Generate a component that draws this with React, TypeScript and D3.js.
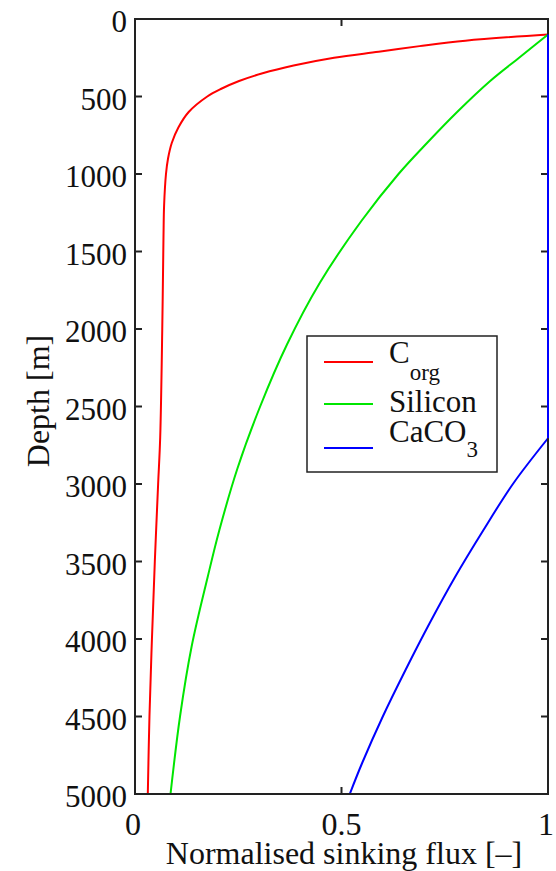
import React from "react";
import * as d3 from "d3";

// depth [m], normalised flux [-]
const corgDepth = [100, 140, 175, 211, 250, 300, 350, 400, 450, 500, 600, 700, 800, 900, 1000, 1200, 1400, 2000, 2700, 3000, 3500, 4000, 4500, 5000];
const corgFlux = [1.0, 0.8, 0.689, 0.59, 0.482, 0.384, 0.309, 0.252, 0.209, 0.175, 0.13, 0.105, 0.089, 0.08, 0.075, 0.0705, 0.069, 0.066, 0.061, 0.056, 0.048, 0.041, 0.035, 0.031];

const siliconDepth = [100, 250, 400, 600, 800, 1000, 1300, 1700, 2100, 2500, 2900, 3300, 3600, 4050, 4500, 5000];
const siliconFlux = [1.0, 0.93, 0.86, 0.78, 0.707, 0.638, 0.549, 0.448, 0.368, 0.303, 0.248, 0.204, 0.176, 0.137, 0.109, 0.086];

const caco3Depth = [100, 2705, 3000, 3300, 3600, 3900, 4200, 4500, 4800, 5000];
const caco3Flux = [1.0, 1.0, 0.915, 0.843, 0.775, 0.713, 0.655, 0.6, 0.55, 0.52];

const yTicks = [0, 500, 1000, 1500, 2000, 2500, 3000, 3500, 4000, 4500, 5000];
const xTicks = [0, 0.5, 1];
const xTickLabels = ["0", "0.5", "1"];

const W = 556;
const H = 871;
const left = 135, right = 548, top = 19, bottom = 794;

export default function App() {
  const x = d3.scaleLinear().domain([0, 1]).range([left, right]);
  const y = d3.scaleLinear().domain([0, 5000]).range([top, bottom]);
  const fontStyle = { fontFamily: "Liberation Serif, Times New Roman, DejaVu Serif, serif" };

  const curve = d3
    .line<[number, number]>()
    .x((d) => x(d[1]))
    .y((d) => y(d[0]))
    .curve(d3.curveCatmullRom.alpha(0.5));
  const straight = d3
    .line<[number, number]>()
    .x((d) => x(d[1]))
    .y((d) => y(d[0]));

  const zip = (a: number[], b: number[]) => a.map((v, i) => [v, b[i]] as [number, number]);
  const corg = zip(corgDepth, corgFlux);
  const sil = zip(siliconDepth, siliconFlux);
  const ca = zip(caco3Depth, caco3Flux);

  const tickLen = 7;
  const axisColor = "#222";

  return (
    <svg width={W} height={H} style={{ position: "absolute", left: 0, top: 0, background: "#fff", ...fontStyle }}>
      <defs>
        <clipPath id="plotclip">
          <rect x={left} y={top} width={right - left} height={bottom - top} />
        </clipPath>
      </defs>
      <rect x={0} y={0} width={W} height={H} fill="#fff" />

      {/* ticks */}
      {yTicks.map((t) => (
        <g key={"y" + t}>
          <line x1={left} x2={left + tickLen} y1={y(t)} y2={y(t)} stroke={axisColor} strokeWidth={2} />
          <line x1={right} x2={right - tickLen} y1={y(t)} y2={y(t)} stroke={axisColor} strokeWidth={2} />
          <text x={127} y={y(t) + 13} fontSize={31} textAnchor="end" fill="#111" style={fontStyle}>
            {t}
          </text>
        </g>
      ))}
      {xTicks.map((t, i) => (
        <g key={"x" + t}>
          <line x1={x(t)} x2={x(t)} y1={bottom} y2={bottom - tickLen} stroke={axisColor} strokeWidth={2} />
          <line x1={x(t)} x2={x(t)} y1={top} y2={top + tickLen} stroke={axisColor} strokeWidth={2} />
          <text x={i === 1 ? x(t) : x(t) - 2} y={835} fontSize={32} textAnchor="middle" fill="#111" style={fontStyle}>
            {xTickLabels[i]}
          </text>
        </g>
      ))}

      {/* curves */}
      <g clipPath="url(#plotclip)" fill="none" strokeWidth={2}>
        <path d={curve(corg) || ""} stroke="#ff0000" />
        <path d={curve(sil) || ""} stroke="#00e600" />
        <path d={straight(ca.slice(0, 2)) || ""} stroke="#0000ff" />
        <path d={curve(ca.slice(1)) || ""} stroke="#0000ff" />
      </g>

      {/* frame */}
      <rect x={left} y={top} width={right - left} height={bottom - top} fill="none" stroke={axisColor} strokeWidth={2} />
      {/* blue overlays right edge */}
      <path d={straight(ca.slice(0, 2)) || ""} stroke="#0000ff" strokeWidth={2} fill="none" />

      {/* axis labels */}
      <text x={344} y={864} fontSize={32} textAnchor="middle" fill="#111" style={fontStyle}>
        Normalised sinking flux [–]
      </text>
      <text transform="translate(49,401) rotate(-90)" fontSize={32} textAnchor="middle" fill="#111" style={fontStyle}>
        Depth [m]
      </text>

      {/* legend */}
      <rect x={307} y={336} width={190} height={136} fill="#fff" stroke={axisColor} strokeWidth={1.5} />
      <line x1={324} x2={373} y1={362} y2={362} stroke="#ff0000" strokeWidth={2} />
      <line x1={324} x2={373} y1={404} y2={404} stroke="#00e600" strokeWidth={2} />
      <line x1={324} x2={373} y1={448} y2={448} stroke="#0000ff" strokeWidth={2} />
      <text x={389} y={363} fontSize={31} fill="#111" style={fontStyle}>
        C
        <tspan fontSize={23} dy={17}>org</tspan>
      </text>
      <text x={389} y={412} fontSize={31} fill="#111" style={fontStyle}>
        Silicon
      </text>
      <text x={389} y={442} fontSize={31} fill="#111" style={fontStyle}>
        CaCO
        <tspan fontSize={23} dy={15}>3</tspan>
      </text>
    </svg>
  );
}
